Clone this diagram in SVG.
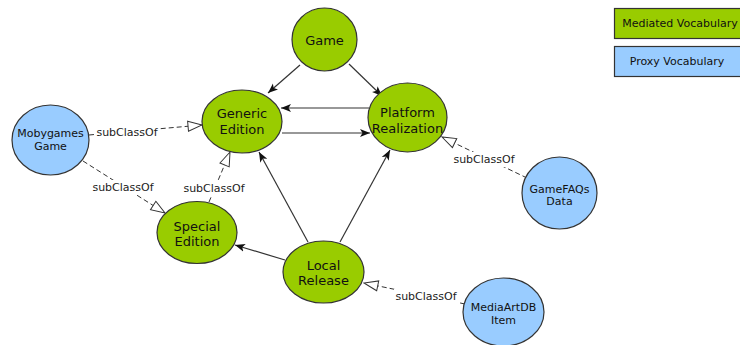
<svg xmlns="http://www.w3.org/2000/svg" width="740" height="345" viewBox="0 0 740 345">
<style>
.g{fill:#99cc00;stroke:#333;stroke-width:1.2}
.b{fill:#99ccff;stroke:#333;stroke-width:1.2}
.t{font-family:"DejaVu Sans",Verdana,sans-serif;font-size:13px;fill:#111;text-anchor:middle}
.ts{font-family:"DejaVu Sans",Verdana,sans-serif;font-size:11px;fill:#111;text-anchor:middle}
.e{fill:none;stroke:#333;stroke-width:1.2}
.d{fill:none;stroke:#333;stroke-width:1;stroke-dasharray:5,3}
.lbl{font-family:"DejaVu Sans",Verdana,sans-serif;font-size:11px;fill:#222;text-anchor:middle}
.bg{fill:#fff}
</style>
<defs>
<marker id="arr" viewBox="0 0 10 10" refX="10" refY="5" markerWidth="10" markerHeight="10" markerUnits="userSpaceOnUse" orient="auto">
<path d="M0,1 L10,5 L0,9 L2.5,5 z" fill="#111"/>
</marker>
<marker id="tri" viewBox="0 0 16 12" refX="15" refY="6" markerWidth="16" markerHeight="12" markerUnits="userSpaceOnUse" orient="auto">
<path d="M1,1 L15,6 L1,11 z" fill="#fff" stroke="#333" stroke-width="1"/>
</marker>
</defs>
<rect width="740" height="345" fill="#fff"/>
<g id="connectors">
<line class="e" x1="300" y1="65" x2="268" y2="93" marker-end="url(#arr)"/>
<line class="e" x1="349" y1="64" x2="382" y2="96" marker-end="url(#arr)"/>
<line class="e" x1="369" y1="108" x2="281" y2="108" marker-end="url(#arr)"/>
<line class="e" x1="282" y1="133" x2="370" y2="133" marker-end="url(#arr)"/>
<line class="e" x1="308" y1="242" x2="259" y2="152" marker-end="url(#arr)"/>
<line class="e" x1="340" y1="242" x2="390" y2="150" marker-end="url(#arr)"/>
<line class="e" x1="285" y1="260" x2="235" y2="245" marker-end="url(#arr)"/>
<line class="d" x1="89" y1="135" x2="202" y2="125" marker-end="url(#tri)"/>
<line class="d" x1="83" y1="161" x2="165" y2="213" marker-end="url(#tri)"/>
<line class="d" x1="209" y1="202" x2="230" y2="152" marker-end="url(#tri)"/>
<line class="d" x1="527" y1="178" x2="442" y2="137" marker-end="url(#tri)"/>
<line class="d" x1="465" y1="304" x2="364" y2="283" marker-end="url(#tri)"/>
<rect class="bg" x="95" y="125" width="64" height="15"/>
<text class="lbl" x="127" y="136">subClassOf</text>
<rect class="bg" x="91" y="180" width="65" height="15"/>
<text class="lbl" x="123" y="191">subClassOf</text>
<rect class="bg" x="182" y="181" width="65" height="15"/>
<text class="lbl" x="214" y="192">subClassOf</text>
<rect class="bg" x="452" y="152" width="65" height="15"/>
<text class="lbl" x="484" y="163">subClassOf</text>
<rect class="bg" x="394" y="289" width="65" height="15"/>
<text class="lbl" x="426" y="300">subClassOf</text>
</g>
<g id="game"><ellipse class="g" cx="324.5" cy="39.5" rx="32.5" ry="31.5"/><text class="t" x="324.5" y="44.5">Game</text></g>
<g id="generic-edition"><ellipse class="g" cx="242" cy="121.5" rx="40" ry="31.5"/><text class="t" x="242" y="118">Generic</text><text class="t" x="242" y="134">Edition</text></g>
<g id="platform-realization"><ellipse class="g" cx="407.5" cy="117.5" rx="39.5" ry="34.5"/><text class="t" x="407.5" y="117">Platform</text><text class="t" x="407.5" y="133">Realization</text></g>
<g id="mobygames-game"><ellipse class="b" cx="50.5" cy="140" rx="38.5" ry="35"/><text class="ts" x="50.5" y="137">Mobygames</text><text class="ts" x="50.5" y="150">Game</text></g>
<g id="special-edition"><ellipse class="g" cx="197" cy="232.5" rx="40" ry="31"/><text class="t" x="197" y="231">Special</text><text class="t" x="197" y="246">Edition</text></g>
<g id="local-release"><ellipse class="g" cx="323.5" cy="272" rx="40.5" ry="31"/><text class="t" x="323.5" y="270">Local</text><text class="t" x="323.5" y="285">Release</text></g>
<g id="gamefaqs-data"><ellipse class="b" cx="559.5" cy="193" rx="37.5" ry="36"/><text class="ts" x="559.5" y="193">GameFAQs</text><text class="ts" x="559.5" y="205">Data</text></g>
<g id="mediaartdb-item"><ellipse class="b" cx="503.5" cy="312" rx="40.5" ry="34"/><text class="ts" x="503.5" y="311">MediaArtDB</text><text class="ts" x="503.5" y="324">Item</text></g>
<g id="legend-mediated"><rect x="614.5" y="8.5" width="132" height="30" fill="#99cc00" stroke="#333" stroke-width="1.2"/><text class="ts" x="680" y="27">Mediated Vocabulary</text></g>
<g id="legend-proxy"><rect x="614.5" y="46.5" width="132" height="30" fill="#99ccff" stroke="#333" stroke-width="1.2"/><text class="ts" x="677" y="65">Proxy Vocabulary</text></g>
</svg>
